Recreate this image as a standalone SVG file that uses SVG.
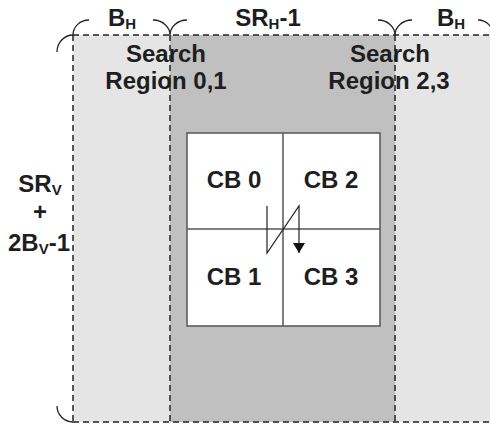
<svg xmlns="http://www.w3.org/2000/svg" width="490" height="425" viewBox="0 0 490 425">
<defs>
<style>
.t{font-family:"Liberation Sans",Arial,sans-serif;font-weight:bold;font-size:24px;fill:#1e1e1e}
.s{font-size:15px}
.dash{stroke:#222;stroke-width:1.5;stroke-dasharray:6 4;fill:none}
.br{stroke:#222;stroke-width:1.3;fill:none}
.grid{stroke:#555;stroke-width:1.5;fill:none}
</style>
<marker id="ah" viewBox="0 0 10 12" refX="10" refY="6" markerWidth="10" markerHeight="12" markerUnits="userSpaceOnUse" orient="auto">
<path d="M0,0 L10,6 L0,12 Z" fill="#111"/>
</marker>
</defs>
<rect width="490" height="425" fill="#fff"/>
<g id="regions">
<rect x="73" y="35" width="97" height="387" fill="#e5e5e5"/>
<rect x="170" y="35" width="225" height="387" fill="#c0c0c0"/>
<rect x="395" y="35" width="100" height="387" fill="#e5e5e5"/>
</g>
<g id="borders">
<path class="dash" d="M73,35 H495 M73,422 H495 M73,35 V422 M170,35 V422 M395,35 V422"/>
</g>
<g id="braces">
<path class="br" d="M73,35 A16,15 0 0 1 89,20 M153,20 A17,15 0 0 1 170,35 A17,15 0 0 1 187,20 M378,20 A17,15 0 0 1 395,35 A17,15 0 0 1 412,20 M478,20 A15,15 0 0 1 493,35"/>
<path class="br" d="M57,52 A16,17 0 0 1 73,35 M57,406 A16,16 0 0 0 73,422"/>
</g>
<g id="cb-block">
<rect x="187" y="133" width="193" height="193" fill="#fff" stroke="#555" stroke-width="1.5"/>
<path class="grid" d="M283,133 V326 M187,229 H380"/>
</g>
<g id="connectors">
<path d="M267,206 V253 L299,206 V253" fill="none" stroke="#222" stroke-width="1.2" marker-end="url(#ah)"/>
</g>
<g id="labels">
<text class="t" x="122" y="26" text-anchor="middle">B<tspan class="s" dy="3">H</tspan></text>
<text class="t" x="268" y="26" text-anchor="middle">SR<tspan class="s" dy="3">H</tspan><tspan dy="-3">-1</tspan></text>
<text class="t" x="451" y="26" text-anchor="middle">B<tspan class="s" dy="3">H</tspan></text>
<text class="t" x="166" y="62" text-anchor="middle">Search</text>
<text class="t" x="166" y="89" text-anchor="middle">Region 0,1</text>
<text class="t" x="390" y="62" text-anchor="middle">Search</text>
<text class="t" x="389" y="89" text-anchor="middle">Region 2,3</text>
<text class="t" x="40" y="192" text-anchor="middle">SR<tspan class="s" dy="3">V</tspan></text>
<text class="t" x="40" y="220" text-anchor="middle">+</text>
<text class="t" x="39" y="251" text-anchor="middle">2B<tspan class="s" dy="3">V</tspan><tspan dy="-3">-1</tspan></text>
</g>
<g id="cb0"><text class="t" x="234" y="188" text-anchor="middle">CB 0</text></g>
<g id="cb2"><text class="t" x="331" y="188" text-anchor="middle">CB 2</text></g>
<g id="cb1"><text class="t" x="234" y="285" text-anchor="middle">CB 1</text></g>
<g id="cb3"><text class="t" x="331" y="285" text-anchor="middle">CB 3</text></g>
</svg>
